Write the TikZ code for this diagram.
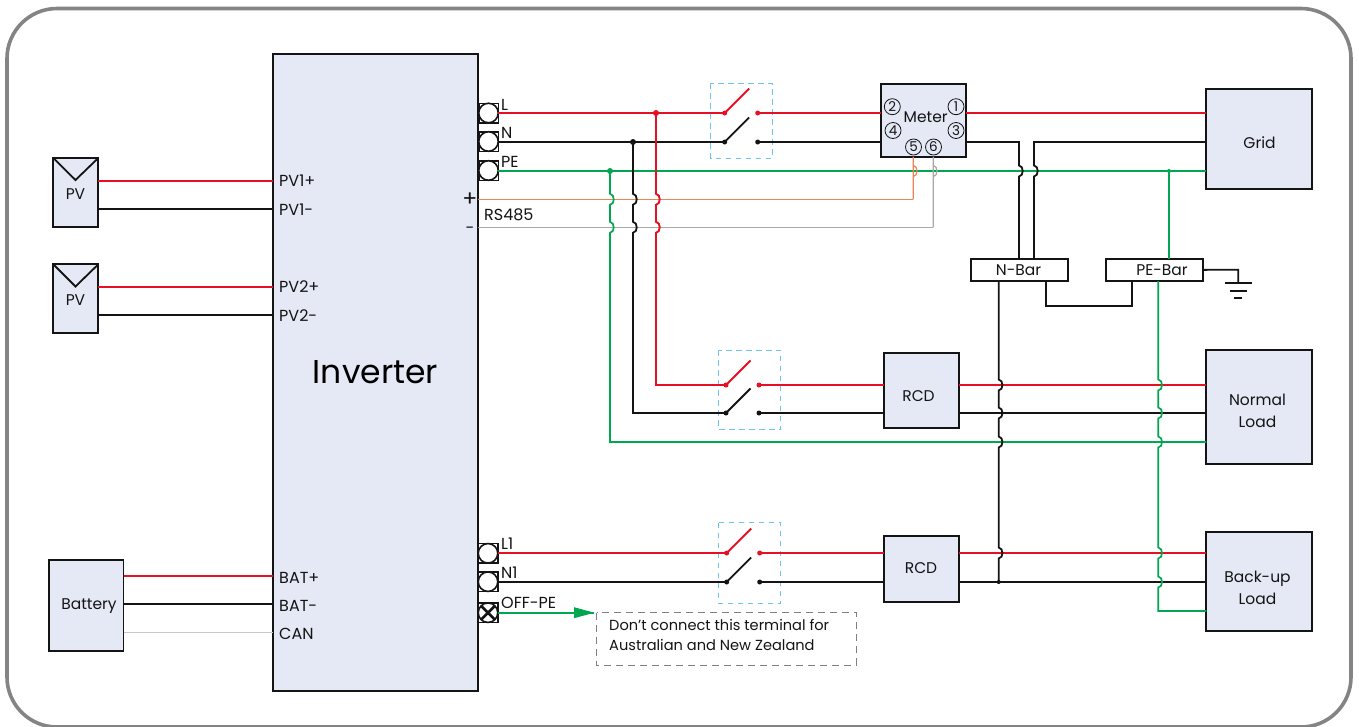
\documentclass[tikz,border=0pt]{standalone}
\usepackage{fontspec}
\setmainfont{Poppins}
\usetikzlibrary{arrows.meta,calc}
\definecolor{cred}{HTML}{E60F23}
\definecolor{cgreen}{HTML}{00A650}
\definecolor{cfill}{HTML}{E4E9F5}
\definecolor{cframe}{HTML}{848484}
\definecolor{cblue}{HTML}{6CC5F0}
\definecolor{corange}{HTML}{E88556}
\definecolor{cgray}{HTML}{A8A8A8}
\definecolor{ccan}{HTML}{C8C8C8}
\definecolor{cink}{HTML}{141414}
\definecolor{cnote}{HTML}{808080}
\newcommand\bx[7][boxst]{\node[#1,minimum width={(#5-#3)*1pt},minimum height={(#6-#4)*1pt}] (#2) at ({(#3+#5)/2},{(#4+#6)/2}) {#7};}
\newcommand\jv[2]{-- (#1,#2-5.5) .. controls (#1+5,#2-5) and (#1+5,#2+5) .. (#1,#2+5.5)}
\newcommand\swt[8]{%
 \draw[dashbox] (#2,#3) rectangle (#4,#5);
 \node[dotr] (#1La) at (#6,#7) {};
 \node[dotr] (#1Lb) at (#6+33,#7) {};
 \node[dotk] (#1Na) at (#6,#8) {};
 \node[dotk] (#1Nb) at (#6+33,#8) {};
 \draw[wr] (#1La.center) -- ++(24.5,-24.5);
 \draw[wk] (#1Na.center) -- ++(24.5,-24.5);}
\tikzset{
 boxst/.style={draw=cink,fill=cfill,line width=1.8pt,inner sep=0pt,outer sep=0pt,align=center},
 barst/.style={boxst,fill=white},
 wr/.style={draw=cred,line width=1.9pt},
 wk/.style={draw=cink,line width=1.8pt},
 wg/.style={draw=cgreen,line width=1.7pt},
 wo/.style={draw=corange,line width=1.2pt},
 wy/.style={draw=cgray,line width=1.2pt},
 wc/.style={draw=ccan,line width=1.2pt},
 dotr/.style={circle,fill=cred,inner sep=0pt,minimum size=5pt},
 dotk/.style={circle,fill=cink,inner sep=0pt,minimum size=5pt},
 dotg/.style={circle,fill=cgreen,inner sep=0pt,minimum size=5pt},
 dashbox/.style={draw=cblue,line width=.9pt,dash pattern=on 5.5pt off 4.5pt},
 term/.style={draw=cink,fill=white,line width=1.5pt,minimum size=19.5pt,inner sep=0pt,outer sep=0pt},
 termc/.style={circle,draw=cink,fill=white,line width=1.6pt,minimum size=19.5pt,inner sep=0pt,outer sep=0pt},
 lab/.style={anchor=base west,inner sep=0pt,font=\fontsize{16}{18}\selectfont,text=cink},
 txt/.style={anchor=base,inner sep=0pt,font=\fontsize{15.5}{18}\selectfont,text=cink},
 num/.style={circle,draw=cink,line width=.8pt,minimum size=16pt,inner sep=0pt,font=\fontsize{13.5}{13.5}\selectfont,text=cink},
}
\begin{document}
\begin{tikzpicture}[x=1pt,y=-1pt]
\useasboundingbox (0,0) rectangle (1359,726);
\fill[white] (0,0) rectangle (1359,726);
\draw[cframe,line width=3.6pt,rounded corners=50pt] (7,8.5) rectangle (1351,727);

% main boxes
\bx{inv}{273}{54}{478}{691}{\fontsize{33}{36}\selectfont Inverter}
\bx{pvA}{53.3}{158}{98.3}{226.7}{}
\bx{pvB}{53.3}{264.3}{98.3}{332.7}{}
\bx{bat}{49}{560}{123.5}{651}{}
\bx{meter}{881.3}{84.3}{966}{156.7}{}
\bx{grid}{1206.3}{89}{1312}{188.7}{}
\bx{nload}{1206.3}{350}{1312}{464}{}
\bx{bload}{1206.3}{532}{1312}{631}{}
\bx{rcdA}{884}{353.3}{958.7}{427.7}{}
\bx{rcdB}{884}{536}{958.7}{602.3}{}
\bx[barst]{nbar}{971.3}{258.7}{1068}{281}{}
\bx[barst]{pebar}{1106}{258.7}{1202.7}{281}{}
\node[txt] (gridt) at (1259.5,148) {Grid};
\node[txt] (nloada) at (1257.5,405) {Normal};
\node[txt] (nloadb) at (1257.5,427) {Load};
\node[txt] (bloada) at (1257.5,582) {Back-up};
\node[txt] (bloadb) at (1257.5,604) {Load};
\node[txt] (rcdAt) at (918.5,401) {RCD};
\node[txt] (rcdBt) at (921,573) {RCD};
\node[txt] (nbart) at (1018.5,275) {N-Bar};
\node[txt] (pebart) at (1162,275) {PE-Bar};
\node[txt] (pvAt) at (75.5,199) {PV};
\node[txt] (pvBt) at (75.5,305.5) {PV};
\node[txt] (batt) at (89,609) {Battery};
\node[txt] (metert) at (925.7,122) {Meter};
\draw[wk] (pvA.north west) -- (75.5,180) -- (pvA.north east);
\draw[wk] (pvB.north west) -- (75.5,286.5) -- (pvB.north east);

% terminals
\node[term] (tLs) at (488.5,113) {};   \node[termc] (tL) at (488.5,113) {};
\node[term] (tNs) at (488.5,141.5) {}; \node[termc] (tN) at (488.5,141.5) {};
\node[term] (tPs) at (488.5,170.5) {}; \node[termc] (tP) at (488.5,170.5) {};
\node[term] (tLAs) at (488,553.3) {};  \node[termc] (tLA) at (488,553.3) {};
\node[term] (tNAs) at (488,581.7) {};  \node[termc] (tNA) at (488,581.7) {};
\node[term] (tOs) at (488,612.7) {};   \node[termc] (tO) at (488,612.7) {};
\draw[cink,line width=2.6pt] (tO.north west) -- (tO.south east) (tO.north east) -- (tO.south west);

% switches
\swt{sA}{710.7}{83.3}{772.3}{158.3}{724.7}{113}{142}
\swt{sB}{718.3}{350}{780.7}{429.3}{726}{385}{413}
\swt{sC}{718.3}{522.7}{780.7}{603.3}{726.7}{553}{582}

% free coordinates
\coordinate (pvAp) at (273,181); \coordinate (pvAm) at (273,209);
\coordinate (pvBp) at (273,287);   \coordinate (pvBm) at (273,315);
\coordinate (batp) at (273,576); \coordinate (batm) at (273,604); \coordinate (batc) at (273,632.5);
\coordinate (rsP) at (478,199.3);  \coordinate (rsM) at (478,227.3);
\coordinate (jg) at (610,171);   \coordinate (jk) at (633,142); \coordinate (jr) at (656,113);
\coordinate (jpe) at (1169,171); \coordinate (jbk) at (998.7,582);
\coordinate (gndT) at (1238.3,283.3);

% PV and battery wires
\draw[wr] (pvA.east |- pvAp) -- (pvAp);
\draw[wk] (pvA.east |- pvAm) -- (pvAm);
\draw[wr] (pvB.east |- pvBp) -- (pvBp);
\draw[wk] (pvB.east |- pvBm) -- (pvBm);
\draw[wr] (bat.east |- batp) -- (batp);
\draw[wk] (bat.east |- batm) -- (batm);
\draw[wc] (bat.east |- batc) -- (batc);

% horizontal wires
\draw[wr] (tL.east |- sALa) -- (sALa.center);
\draw[wk] (tN.east |- sANa) -- (sANa.center);
\draw[wg] (tP.east |- jg) -- (grid.west |- jg);
\draw[wr] (sALb.center) -- (meter.west |- sALb);
\draw[wk] (sANb.center) -- (meter.west |- sANb);
\draw[wr] (meter.east |- sALb) -- (grid.west |- sALb);
\draw[wr] (sBLb.center) -- (rcdA.west |- sBLb);
\draw[wk] (sBNb.center) -- (rcdA.west |- sBNb);
\draw[wr] (rcdA.east |- sBLb) -- (nload.west |- sBLb);
\draw[wk] (rcdA.east |- sBNb) -- (nload.west |- sBNb);
\draw[wr] (tLA.east |- sCLa) -- (sCLa.center);
\draw[wk] (tNA.east |- sCNa) -- (sCNa.center);
\draw[wr] (sCLb.center) -- (rcdB.west |- sCLb);
\draw[wk] (sCNb.center) -- (rcdB.west |- sCNb);
\draw[wr] (rcdB.east |- sCLb) -- (bload.west |- sCLb);
\draw[wk] (rcdB.east |- sCNb) -- (bload.west |- sCNb);
\draw[wg] (tO.east) -- (594,612.7) coordinate (arrowtip);
\draw[wo] (rsP) -- (913.3,199.3);
\draw[wy] (rsM) -- (933.3,227.3);
\draw[wg] (jg) \jv{610}{199.3} \jv{610}{227.3} -- (610,442) -- (nload.west |- 0,442);
\draw[wk] (jk) \jv{633}{199.3} \jv{633}{227.3} -- (633,413) -- (sBNa.center);
\draw[wr] (jr) \jv{656}{199.3} \jv{656}{227.3} -- (656,385) -- (sBLa.center);
\draw[wo] (913.3,199.3) \jv{913.3}{171} -- (913.3,156.7);
\draw[wy] (933.3,227.3) \jv{933.3}{171} -- (933.3,156.7);
\draw[wk] (meter.east |- sANb) -- (1019,142) \jv{1019}{171} -- (nbar.north -| 1019,0);
\draw[wk] (grid.west |- sANb) -- (1034,142) \jv{1034}{171} -- (nbar.north -| 1034,0);
\draw[wg] (jpe) -- (pebar.north -| jpe);
\draw[wk] (nbar.south -| 1046.3,0) -- (1046.3,305.7) -- (1132.3,305.7) -- (pebar.south -| 1132.3,0);
\draw[wk] (pebar.east) -- (1238.3,269.8) -- (gndT);
\draw[wk] (1225,283.3) -- (1251.7,283.3) (1229.5,290.7) -- (1247,290.7) (1234,297.7) -- (1242,297.7);
\draw[wk] (nbar.south -| jbk) \jv{998.7}{385} \jv{998.7}{413} \jv{998.7}{442} \jv{998.7}{553} -- (jbk);
\draw[wg] (pebar.south -| 1158.3,0) \jv{1158.3}{385} \jv{1158.3}{413} \jv{1158.3}{442} \jv{1158.3}{553} \jv{1158.3}{582} -- (1158.3,611) -- (bload.west |- 0,611);

% junction dots
\node[dotg,minimum size=6pt] (dg) at (jg) {};
\node[dotk,minimum size=6pt] (dk) at (jk) {};
\node[dotr,minimum size=6pt] (dr) at (jr) {};
\node[dotg,minimum size=4pt] (dpe) at (jpe) {};
\node[dotk,minimum size=4pt] (dbk) at (jbk) {};

% arrow head
\fill[cgreen] (574,607.2) -- (594.3,612.7) -- (574,618.2) -- cycle;

% meter numbers
\node[num] (n2) at (892.3,106.7) {2};
\node[num] (n1) at (956,106.7) {1};
\node[num] (n4) at (893,130.5) {4};
\node[num] (n3) at (956,130.5) {3};
\node[num] (n5) at (913.5,147) {5};
\node[num] (n6) at (933.5,147) {6};

% labels
\node[lab] at (279,186.5) {PV1+};
\node[lab] at (279,215) {PV1-};
\node[lab] at (279,292.5) {PV2+};
\node[lab] at (279,321) {PV2-};
\node[lab] at (279,583) {BAT+};
\node[lab] at (279,611) {BAT-};
\node[lab] at (279,639) {CAN};
\node[lab] at (501,110) {L};
\node[lab] at (501,138) {N};
\node[lab] at (501,167) {PE};
\node[lab] at (501,549) {L1};
\node[lab] at (501,578) {N1};
\node[lab] at (501,608) {OFF-PE};
\node[lab] at (484,220) {RS485};
\node[txt,font=\fontsize{22}{24}\selectfont] at (470,206.5) {+};
\node[txt,font=\fontsize{16}{18}\selectfont] at (470,233) {-};

% note
\draw[cnote,line width=1pt,dash pattern=on 7pt off 5pt] (596.7,612.7) rectangle (856.7,665);
\node[lab,font=\fontsize{14.6}{16}\selectfont] at (609,630.5) {Don’t connect this terminal for};
\node[lab,font=\fontsize{14.6}{16}\selectfont] at (609,650.5) {Australian and New Zealand};
\end{tikzpicture}
\end{document}
